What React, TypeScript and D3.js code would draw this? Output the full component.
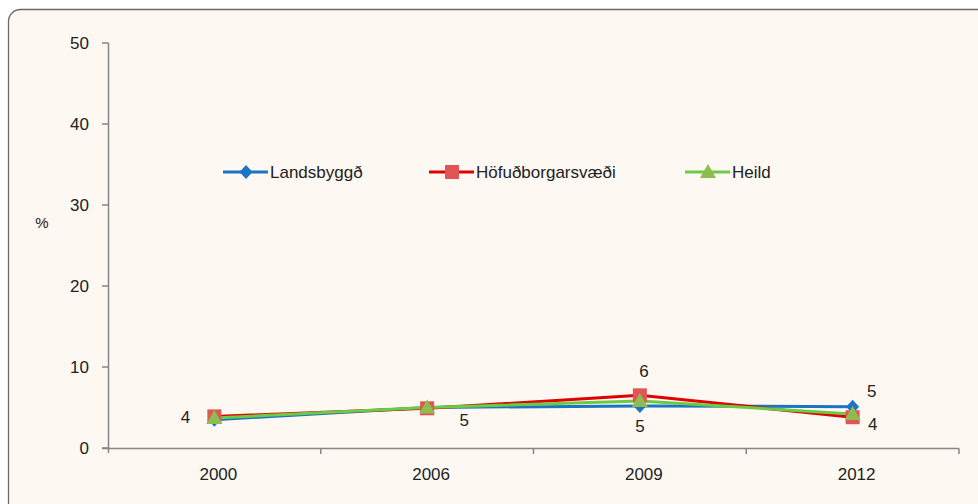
import React from "react";
import * as d3 from "d3";

const categories = ["2000", "2006", "2009", "2012"];
const seriesNames = ["Landsbyggð", "Höfuðborgarsvæði", "Heild"];
const landsbyggd = [3.5, 5.0, 5.2, 5.1];
const hofudborg = [3.9, 4.9, 6.5, 3.8];
const heild = [3.7, 5.0, 5.8, 4.2];
const yTicks = [0, 10, 20, 30, 40, 50];
// data labels: [series index, category index, text, dx, dy]
const dataLabels: [number, number, string, number, number][] = [
  [1, 0, "4", -29, 1],
  [0, 1, "5", 37, 13],
  [1, 2, "6", 4, -24],
  [0, 2, "5", 0, 20],
  [0, 3, "5", 19, -16],
  [1, 3, "4", 20, 7],
];

const W = 978;
const H = 504;
const FONT = "'Liberation Sans', Arial, sans-serif";

export default function App() {
  const x = d3.scaleBand<string>().domain(categories).range([108, 959]);
  const y = d3.scaleLinear().domain([0, 50]).range([448, 43]);
  const cx = (i: number) => (x(categories[i]) as number) + x.bandwidth() / 2;
  const all = [landsbyggd, hofudborg, heild];
  const lineColors = ["#1B75C2", "#E00000", "#6CCB45"];
  const markColors = ["#1B75C2", "#E05555", "#8DBD50"];
  const line = d3
    .line<number>()
    .x((_, i) => cx(i))
    .y((d) => y(d));

  const marker = (s: number, px: number, py: number, key: string) => {
    if (s === 0) {
      return (
        <path
          key={key}
          d={`M${px},${py - 7}L${px + 6.5},${py}L${px},${py + 7}L${px - 6.5},${py}Z`}
          fill={markColors[0]}
        />
      );
    }
    if (s === 1) {
      return <rect key={key} x={px - 7} y={py - 7} width={14} height={14} fill={markColors[1]} />;
    }
    return (
      <path
        key={key}
        d={`M${px},${py - 8}L${px + 8},${py + 6}L${px - 8},${py + 6}Z`}
        fill={markColors[2]}
      />
    );
  };

  const legendX = [223, 429, 685];

  return (
    <svg width={W} height={H} style={{ position: "absolute", left: 0, top: 0 }} fontFamily={FONT}>
      <rect x={0} y={0} width={W} height={H} fill="#FFFFFF" />
      <rect x={8.5} y={9.5} width={985} height={520} rx={12} fill="#FDF8F2" stroke="#6a6a6a" strokeWidth={1.3} />
      {/* y axis */}
      <line x1={108.5} x2={108.5} y1={43} y2={453} stroke="#868686" strokeWidth={1.5} />
      {yTicks.map((t) => (
        <g key={t}>
          <line x1={102} x2={108.5} y1={y(t)} y2={y(t)} stroke="#868686" strokeWidth={1.5} />
          <text x={89} y={y(t)} dy="0.35em" textAnchor="end" fontSize={17} fill="#222">
            {t}
          </text>
        </g>
      ))}
      <text x={42} y={228} textAnchor="middle" fontSize={15} fill="#222">
        %
      </text>
      {/* x axis */}
      <line x1={102} x2={959} y1={448.5} y2={448.5} stroke="#868686" strokeWidth={1.5} />
      {categories.map((c, i) => (
        <g key={c}>
          <line
            x1={(x(c) as number) + x.bandwidth()}
            x2={(x(c) as number) + x.bandwidth()}
            y1={448.5}
            y2={454}
            stroke="#868686"
            strokeWidth={1.5}
          />
          <text x={cx(i) + 4} y={474} dy="0.35em" textAnchor="middle" fontSize={17} fill="#222">
            {c}
          </text>
        </g>
      ))}
      {/* lines */}
      {all.map((vals, s) => (
        <path key={s} d={line(vals) as string} fill="none" stroke={lineColors[s]} strokeWidth={3} />
      ))}
      {all.map((vals, s) => vals.map((v, i) => marker(s, cx(i), y(v), `m${s}-${i}`)))}
      {dataLabels.map(([s, i, t, dx, dy], k) => (
        <text key={k} x={cx(i) + dx} y={y(all[s][i]) + dy} dy="0.35em" textAnchor="middle" fontSize={17} fill="#222">
          {t}
        </text>
      ))}
      {/* legend */}
      {seriesNames.map((n, s) => (
        <g key={n}>
          <line x1={legendX[s]} x2={legendX[s] + 45} y1={172} y2={172} stroke={lineColors[s]} strokeWidth={3} />
          {marker(s, legendX[s] + 23, 172, `lg${s}`)}
          <text x={legendX[s] + 47} y={172} dy="0.35em" fontSize={17} fill="#222">
            {n}
          </text>
        </g>
      ))}
    </svg>
  );
}
